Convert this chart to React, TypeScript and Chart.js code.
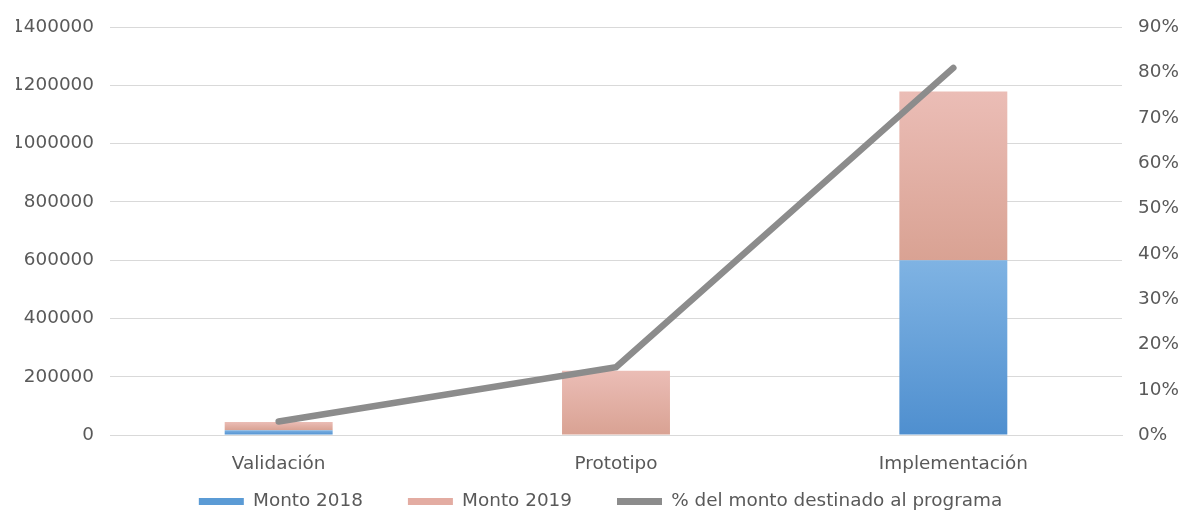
import React, { useEffect, useRef } from "react";
import { Chart, registerables } from "chart.js";

Chart.register(...registerables);

const categories = ["Validación", "Prototipo", "Implementación"];
const monto2018 = [17000, 0, 600000];
const monto2019 = [28000, 221000, 579000];
const porcentaje = [0.03, 0.15, 0.81];
const leftTicks = [0, 200000, 400000, 600000, 800000, 1000000, 1200000, 1400000];
const rightTicks = [0, 0.1, 0.2, 0.3, 0.4, 0.5, 0.6, 0.7, 0.8, 0.9];

const FONT = "'DejaVu Sans', sans-serif";
const TEXT = "#595959";
const SIZE = 18.4;

function barGradient(light: string, dark: string, dsIndex: number) {
  return (ctx: any) => {
    const chart = ctx.chart;
    const y = chart.scales && chart.scales.y;
    if (!chart.chartArea || !y || ctx.type !== "data") return dark;
    const i = ctx.dataIndex;
    let base = 0;
    const sets = chart.data.datasets;
    for (let d = 0; d < dsIndex; d++) {
      if (sets[d].type !== "line") base += Number(sets[d].data[i]) || 0;
    }
    const v = Number(ctx.raw) || 0;
    const top = y.getPixelForValue(base + v);
    const bot = y.getPixelForValue(base);
    if (!isFinite(top) || !isFinite(bot) || top === bot) return dark;
    const g = chart.ctx.createLinearGradient(0, top, 0, bot);
    g.addColorStop(0, light);
    g.addColorStop(1, dark);
    return g;
  };
}

export default function App() {
  const ref = useRef<HTMLCanvasElement>(null);
  useEffect(() => {
    document.body.style.margin = "0";
    const chart = new Chart(ref.current!, {
      type: "bar",
      data: {
        labels: categories,
        datasets: [
          {
            type: "bar",
            label: "Monto 2018",
            data: monto2018,
            backgroundColor: barGradient("#7fb3e3", "#4f8fcf", 0),
            yAxisID: "y",
            stack: "s",
            order: 1,
            barPercentage: 0.32,
            categoryPercentage: 1,
          },
          {
            type: "bar",
            label: "Monto 2019",
            data: monto2019,
            backgroundColor: barGradient("#ebbdb6", "#d9a293", 1),
            yAxisID: "y",
            stack: "s",
            order: 1,
            barPercentage: 0.32,
            categoryPercentage: 1,
          },
          {
            type: "line",
            label: "% del monto destinado al programa",
            data: porcentaje,
            borderColor: "#8c8c8c",
            backgroundColor: "#8c8c8c",
            borderWidth: 6.5,
            borderCapStyle: "round",
            pointRadius: 0,
            tension: 0,
            yAxisID: "y1",
            order: 0,
          } as any,
        ],
      },
      options: {
        responsive: true,
        maintainAspectRatio: false,
        animation: false,
        layout: { padding: { top: 22, bottom: -2.8, left: 16, right: 0 } },
        plugins: {
          tooltip: { enabled: false },
          legend: {
            position: "bottom",
            labels: {
              boxWidth: 45,
              boxHeight: 7,
              padding: 45,
              color: TEXT,
              font: { family: FONT, size: SIZE },
              sort: (a: any, b: any) => a.datasetIndex - b.datasetIndex,
              generateLabels: (c: any) =>
                c.data.datasets.map((ds: any, i: number) => ({
                  text: ds.label,
                  fillStyle: i === 0 ? "#5b9bd5" : i === 1 ? "#e3aca2" : "#8c8c8c",
                  strokeStyle: "transparent",
                  fontColor: TEXT,
                  lineWidth: 0,
                  datasetIndex: i,
                  hidden: false,
                })),
            },
          },
        },
        scales: {
          x: {
            stacked: true,
            grid: { display: false, drawTicks: false },
            border: { display: true, color: "#d9d9d9" },
            ticks: { color: TEXT, font: { family: FONT, size: SIZE }, padding: 18, maxRotation: 0 },
            afterFit: (s: any) => {
              s.height = 12.3;
              s._computeLabelArea = () => undefined;
            },
          },
          y: {
            stacked: true,
            min: 0,
            max: 1400000,
            afterBuildTicks: (s: any) => {
              s.ticks = leftTicks.map((v) => ({ value: v }));
            },
            grid: { color: "#d9d9d9", drawTicks: false },
            border: { display: false },
            ticks: {
              color: TEXT,
              font: { family: FONT, size: SIZE },
              padding: 16,
              callback: (v: any) => String(v),
            },
            afterFit: (s: any) => {
              s.width = 94;
            },
          },
          y1: {
            position: "right",
            min: 0,
            max: 0.9,
            afterBuildTicks: (s: any) => {
              s.ticks = rightTicks.map((v) => ({ value: v }));
            },
            grid: { display: false, drawTicks: false },
            border: { display: false },
            ticks: {
              color: TEXT,
              font: { family: FONT, size: SIZE },
              padding: 16,
              callback: (v: any) => Math.round(Number(v) * 100) + "%",
            },
            afterFit: (s: any) => {
              s.width = 63;
            },
          },
        },
      },
    });
    return () => chart.destroy();
  }, []);
  return (
    <div style={{ position: "fixed", left: 0, top: 0, width: 1185, height: 518 }}>
      <canvas ref={ref} />
    </div>
  );
}
